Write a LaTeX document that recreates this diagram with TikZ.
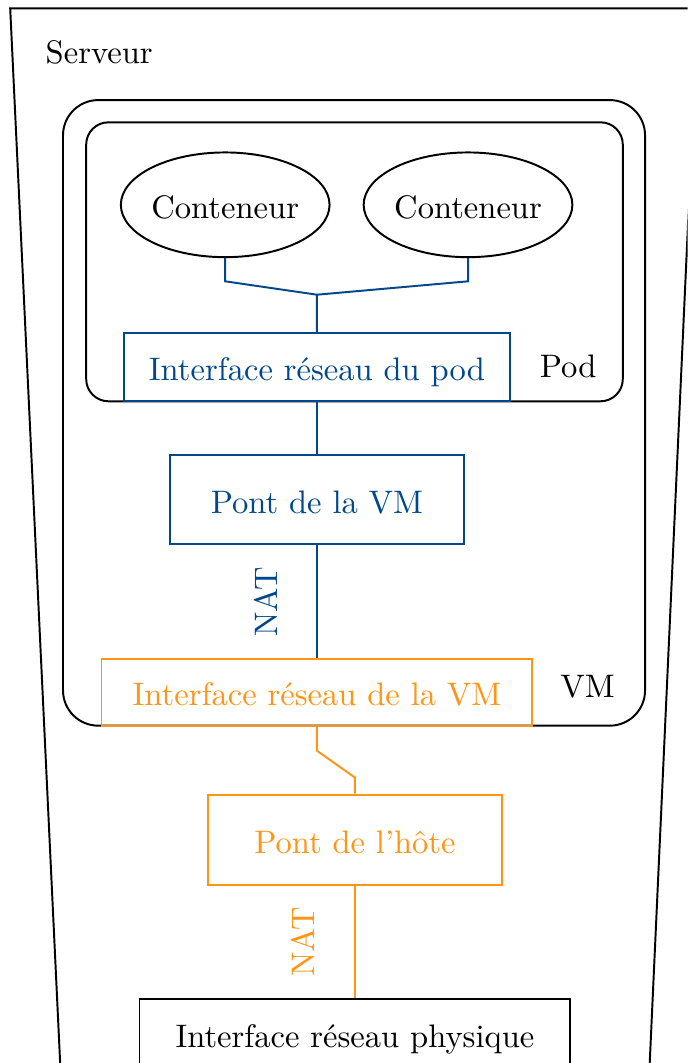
\documentclass[tikz,border=0pt]{standalone}
\usepackage{tikz}
\usetikzlibrary{shapes.geometric, positioning, calc}
\definecolor{vmblue}{RGB}{0, 72, 139}
\definecolor{hostorange}{RGB}{255, 148, 21}

\begin{document}
\begin{tikzpicture}[
    outline/.style={draw, semithick},
    box/.style={draw, semithick, rectangle, inner sep=0pt, align=center,
                text height=1.95ex, text depth=0pt},
    bluebox/.style={box, vmblue, text=vmblue},
    orangebox/.style={box, hostorange, text=hostorange},
    container/.style={outline, ellipse, minimum width=2.19cm,
                      minimum height=1.13cm, inner sep=0pt,
                      text height=1.95ex, text depth=0pt},
    bluelink/.style={vmblue, semithick},
    orangelink/.style={hostorange, semithick}]

    \useasboundingbox (0,0) rectangle (7.42,-11.47);
    \clip (0,0) rectangle (7.42,-11.47);

    % SERVER: trapezoid running off the page
    \draw[outline] (0.66,-11.7) -- (0.11,-0.09) -- (7.53,-0.09) -- (7.00,-11.7);
    \node (serverlbl) at (1.07,-0.57) {Serveur};

    % VM AND POD frames
    \draw[outline, rounded corners=0.38cm] (0.68,-1.08) rectangle (6.96,-7.83);
    \draw[outline, rounded corners=0.24cm] (0.93,-1.32) rectangle (6.72,-4.33);
    \node (podlbl) at (6.13,-3.95) {Pod};
    \node (vmlbl) at (6.34,-7.41) {VM};

    % CONTAINERS
    \node[container] (cont1) at (2.43,-2.21) {Conteneur};
    \node[container] (cont2) at (5.05,-2.21) {Conteneur};

    % BLUE SIDE: pod interface and VM bridge
    \node[bluebox, minimum width=4.16cm, minimum height=0.73cm]
        (podif) at (3.42,-3.96) {Interface réseau du pod};
    \node[bluebox, minimum width=3.18cm, minimum height=0.97cm]
        (vmbridge) at (3.42,-5.39) {Pont de la VM};
    \coordinate (podjoin) at (3.42,-3.18);

    % ORANGE SIDE: VM interface and host bridge
    \node[orangebox, minimum width=4.65cm, minimum height=0.72cm]
        (vmif) at (3.42,-7.47) {Interface réseau de la VM};
    \node[orangebox, minimum width=3.18cm, minimum height=0.97cm]
        (hostbridge) at (3.83,-9.06) {Pont de l'hôte};
    \coordinate (hostjoin) at (3.83,-8.39);

    % PHYSICAL interface
    \node[box, minimum width=4.65cm, minimum height=0.76cm]
        (physif) at (3.83,-11.16) {Interface réseau physique};

    % LINKS
    \draw[bluelink] (cont1.south) -- ++(0,-0.25) -- (podjoin) -- (podif.north);
    \draw[bluelink] (cont2.south) -- ++(0,-0.25) -- (podjoin);
    \draw[bluelink] (podif.south) -- (vmbridge.north);
    \draw[bluelink] (vmbridge.south) -- (vmif.north)
        node[midway, xshift=-0.55cm, rotate=90, text=vmblue] {NAT};
    \draw[orangelink] (vmif.south) -- ++(0,-0.26) -- (hostjoin) -- (hostbridge.north);
    \draw[orangelink] (hostbridge.south) -- (physif.north)
        node[midway, xshift=-0.56cm, rotate=90, text=hostorange] {NAT};

\end{tikzpicture}
\end{document}
